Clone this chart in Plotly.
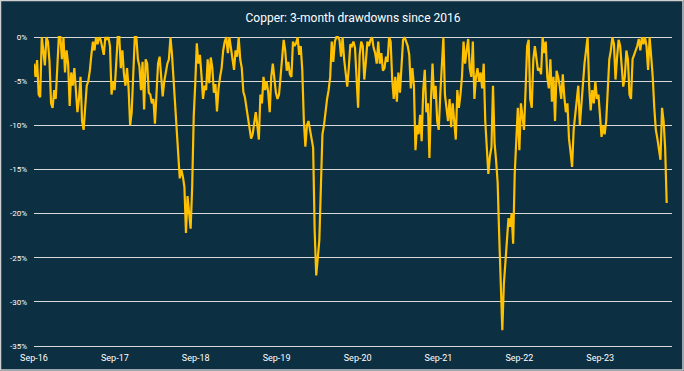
import pandas as pd
import plotly.graph_objects as go

# Weekly 3-month drawdown of copper (%)
dd_2016_17 = [-3.0, -4.5, -2.6, -6.5, -6.8, 0, -1.5, -3.2, 0, -0.5, -2.8, -7.5, -8.0, -6.0, -7.0, -3.0, 0, 0,
              -2.5, 0, -4.0, -1.5, -3.0, -7.8, -4.0, -5.5, -3.5, -6.0, -8.5, -7.0, -4.5, -9.5, -10.5, -8.0, -5.5,
              -5.0, -3.8, -2.0, -0.5, -1.5, 0, -0.8, 0, -0.3, -1.0, -2.0, 0, -0.2, 0, -1.0, -6.5, -5.0, -6.0]
dd_2017_18 = [-2.6, 0, 0, -3.5, -1.5, -4.2, -5.5, -3.5, -5.8, -10.0, -8.5, -3.7, 0, 0, -2.5, -3.3, -6.0, -2.8,
              -8.2, -2.5, -3.0, -6.3, -6.5, -7.5, -7.0, -9.8, -5.5, -3.0, -2.2, -4.5, -6.7, -5.0, -3.8, -3.0, -2.5,
              0, -2.0, -5.0, -8.0, -11.0, -13.5, -16.0, -15.0, -15.8, -17.0, -22.2, -18.0, -19.5, -21.7, -17.0, -9.0]
dd_2018_19 = [-5.2, -0.7, -3.0, -2.0, -4.3, -7.0, -5.5, -6.0, -2.5, -5.2, -2.3, -3.5, -6.3, -5.3, -8.4, -5.8, -4.5,
              -3.5, -1.5, -0.5, 0, -1.8, 0, -1.2, -2.5, -3.7, -1.5, -2.2, 0, -2.5, -3.5, -6.2, -6.8, -8.0, -9.3,
              -10.5, -11.5, -11.0, -9.5, -8.5, -10.0, -11.6, -6.5, -7.5, -4.5, -6.0, -5.0, -6.2, -8.5, -4.5, -3.0]
dd_2019_20 = [-5.0, -6.3, -7.0, -6.5, -4.5, -2.3, -0.3, -1.5, -3.8, -2.8, -4.2, -4.5, -0.5, -1.0, -0.7, 0, -2.0,
              -1.0, -3.7, -9.4, -12.4, -10.0, -9.5, -10.5, -11.3, -12.5, -22.0, -27.0, -25.0, -23.0, -17.0, -11.0,
              -10.0, -8.3, -7.0, -6.0, -4.5, -0.5, -2.8, -0.5, 0, 0, -0.3, -2.2, 0, -2.5, -4.0, -5.6, -3.5, -0.8]
dd_2020_21 = [-1.0, -0.5, -1.2, -4.8, -8.0, -2.0, -0.5, -1.0, -4.8, -2.8, -0.5, -1.0, -0.3, 0, -1.2, -1.8, -3.0,
              -0.5, -3.0, -1.8, -3.8, -3.5, -2.2, -2.8, 0, -0.5, -4.8, -7.0, -4.5, -7.3, -4.0, -6.3, -2.5, -0.3, 0,
              -0.5, -1.0, -2.0, -5.8, -3.5, -5.5, -12.8, -10.0, -11.0, -8.8, -11.8, -6.0, -3.7, -8.5, -7.5, -13.7]
dd_2021_22 = [-7.0, -3.0, -7.0, -5.5, -9.5, -10.5, -6.5, -3.5, 0, -6.5, -8.0, -9.5, -7.0, -10.2, -7.5, -9.5, -11.6,
              -6.0, -8.0, -6.5, -4.5, -0.5, -3.0, -1.5, -0.2, -3.5, -4.5, -0.5, -7.0, -4.5, -3.5, -5.0, -4.0, -5.8,
              -3.0, -9.5, -13.0, -15.5, -13.5, -12.5, -5.5, -12.0, -14.0, -16.5, -22.5, -27.0, -33.2, -28.0, -25.0,
              -23.0, -20.5, -21.5, -20.0, -23.4]
dd_2022_23 = [-15.5, -11.5, -8.0, -12.8, -7.5, -9.0, -10.5, -6.0, -1.0, -0.3, -7.0, -8.0, -2.5, -1.0, -2.5, -3.8,
              -3.5, -4.2, 0, -1.8, -0.5, -4.5, -5.8, -2.5, -7.3, -4.5, -9.5, -3.8, -4.5, -5.5, -7.0, -4.2, -6.8,
              -8.5, -7.5, -11.5, -13.0, -14.7, -10.5, -9.0, -7.5, -5.5, -10.0, -7.5, -5.5, -3.0, -1.5, 0, -5.5, -8.3]
dd_2023_24 = [-6.0, -7.5, -5.0, -7.0, -6.5, -9.0, -11.3, -10.0, -11.0, -9.5, -5.0, -2.5, -1.5, 0, -0.8, -4.8, -2.3,
              -0.3, -1.0, -3.0, -5.6, -4.5, -1.5, -2.5, -6.5, -7.0, -2.5, -2.0, -1.5, -1.0, -0.2, -1.5, 0, -0.8, 0,
              -1.0, -3.7, 0, -2.2, -4.5, -8.0, -10.5, -11.5, -12.5, -13.9, -8.0, -9.5, -12.5, -18.8]

drawdown = (dd_2016_17 + dd_2017_18 + dd_2018_19 + dd_2019_20 + dd_2020_21
            + dd_2021_22 + dd_2022_23 + dd_2023_24)
dates = pd.date_range(start="2016-09-01", periods=len(drawdown), freq="7D")

x_tick_vals = ["2016-09-01", "2017-09-01", "2018-09-01", "2019-09-01",
               "2020-09-01", "2021-09-01", "2022-09-01", "2023-09-01"]
x_tick_text = ["Sep-16", "Sep-17", "Sep-18", "Sep-19", "Sep-20", "Sep-21", "Sep-22", "Sep-23"]
y_tick_vals = [0, -5, -10, -15, -20, -25, -30, -35]
y_tick_text = ["0%", "-5%", "-10%", "-15%", "-20%", "-25%", "-30%", "-35%"]

BG = "#0c2f42"
GRID = "#d9d9d9"
GOLD = "#FFC000"
W, H = 684, 371
ML, MR, MT, MB = 34, 12, 35, 25

fig = go.Figure()
fig.add_trace(go.Scatter(x=dates, y=drawdown, mode="lines",
                         line=dict(color=GOLD, width=2.2), hoverinfo="skip"))

pw = W - ML - MR
ph = H - MT - MB
fig.add_shape(type="rect", xref="paper", yref="paper",
              x0=-(ML - 0.5) / pw, x1=1 + (MR - 1) / pw,
              y0=-(MB - 1) / ph, y1=1 + (MT - 0.5) / ph,
              line=dict(color="#d0d0d0", width=1.5), fillcolor="rgba(0,0,0,0)", layer="above")

fig.update_layout(
    width=W, height=H,
    margin=dict(l=ML, r=MR, t=MT, b=MB, autoexpand=False),
    paper_bgcolor=BG, plot_bgcolor=BG,
    showlegend=False,
    hovermode=False,
    font=dict(family="Roboto, Arial, sans-serif", color="white", size=9),
    title=dict(text="Copper: 3-month drawdowns since 2016", x=0.5, xanchor="center",
               xref="paper", y=1 - 18 / H, yref="container", yanchor="middle",
               font=dict(family="Roboto, Arial, sans-serif", size=12, color="white")),
    xaxis=dict(range=["2016-09-01", "2024-07-21"], tickvals=x_tick_vals, ticktext=x_tick_text,
               showgrid=False, zeroline=False, showline=True, linecolor=GRID, linewidth=1,
               ticks="", automargin=False, ticklabelstandoff=3, tickfont=dict(size=9, color="white")),
    yaxis=dict(range=[-35, 0.25], tickvals=y_tick_vals, ticktext=y_tick_text,
               showgrid=True, gridcolor=GRID, gridwidth=1, zeroline=False, automargin=False,
               ticks="", ticklabelstandoff=6, tickfont=dict(size=8, color="white")),
)

fig.write_html("out.html",
               config={"displayModeBar": False, "staticPlot": True},
               post_script="document.body.style.margin='0';document.body.style.padding='0';"
                           "document.body.style.overflow='hidden';")
